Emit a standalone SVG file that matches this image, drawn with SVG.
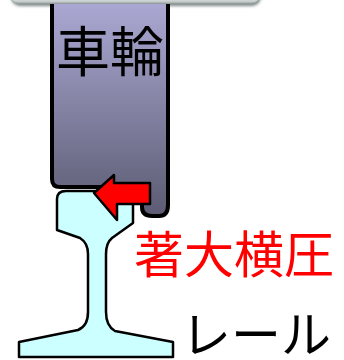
<svg xmlns="http://www.w3.org/2000/svg" width="344" height="360" viewBox="0 0 344 360">
  <defs>
    <linearGradient id="wheelFill" x1="0" y1="0" x2="0" y2="1">
      <stop offset="0" stop-color="#aaa8d2"/>
      <stop offset="1" stop-color="#5c5b72"/>
    </linearGradient>
    <linearGradient id="barFill" x1="0" y1="0" x2="0" y2="1">
      <stop offset="0" stop-color="#ffffff"/>
      <stop offset="0.7" stop-color="#eef0f0"/>
      <stop offset="1" stop-color="#b8c0c0"/>
    </linearGradient>
    <filter id="soft" x="-10%" y="-50%" width="120%" height="200%">
      <feGaussianBlur stdDeviation="1.5"/>
    </filter>
  </defs>
  <style>
    .outline { stroke: #000; stroke-linejoin: round; }
    .label { font-family: "Noto Sans CJK JP", "Noto Sans", sans-serif; }
  </style>

  <!-- header bar along the top edge -->
  <g id="header-bar">
    <rect x="11" y="-16" width="250" height="22" rx="9" fill="#7f8888" filter="url(#soft)"/>
    <rect x="10" y="-18" width="250" height="21" rx="8" fill="url(#barFill)" stroke="#a4acac" stroke-width="1"/>
  </g>

  <!-- rail cross-section: head, web, foot -->
  <g id="rail">
    <path class="outline" fill="#ccffff" stroke-width="2.5"
          d="M57,199 Q57,191 66,191 L118,191 Q133,191 133,205 L133,223 L112,238 Q106,243 106,254 L106,312 Q106,326 115,331 L173,342 L173,357 L19,357 L19,342 L78,330 Q88,326 88,312 L88,254 Q88,243 80,238 L57,230 Z"/>
  </g>

  <!-- wheel with flange on the gauge side -->
  <g id="wheel">
    <path class="outline" fill="url(#wheelFill)" stroke-width="4"
          d="M52,4 L52,179 Q52,187 60,187 L122,187 Q140,189 142,205 L142,207 Q142,216 152,216 L159,216 Q168,216 168,205 L168,4"/>
    <text class="label" x="110" y="72" font-size="54" text-anchor="middle" fill="#000">車輪</text>
  </g>

  <!-- lateral force arrow pushing the flange against the rail -->
  <g id="force-arrow">
    <polygon class="outline" fill="#ff0000" stroke-width="2.5"
             points="94,193 114,175 114,183 150,183 150,204 117,204 117,220"/>
  </g>

  <g id="labels">
    <text class="label" x="134" y="273" font-size="50" fill="#ff0000">著大横圧</text>
    <text class="label" x="181" y="353" font-size="50" fill="#000">レール</text>
  </g>
</svg>
